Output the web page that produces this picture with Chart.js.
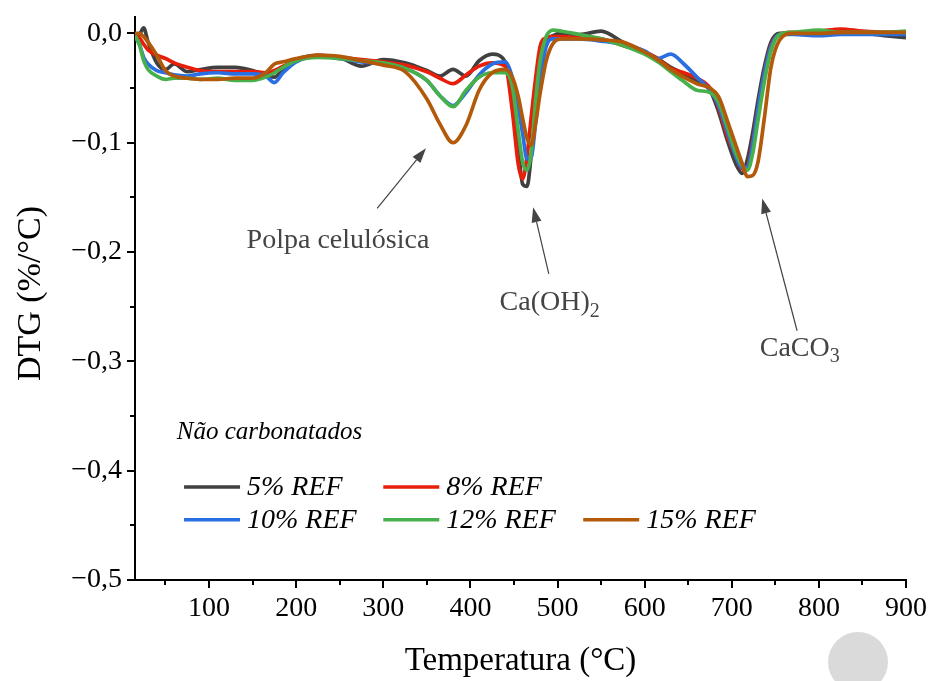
<!DOCTYPE html>
<html><head><meta charset="utf-8">
<script src="https://cdn.jsdelivr.net/npm/chart.js@4/dist/chart.umd.min.js"></script>
<style>
html,body{margin:0;padding:0;background:#fff;overflow:hidden}
#wrap{position:relative;width:936px;height:681px}
#dot{position:absolute;left:828px;top:632px;width:60px;height:60px;border-radius:50%;background:#dadada}
</style></head>
<body><div id="wrap"><canvas id="c" width="936" height="681"></canvas><div id="dot"></div></div>
<script>
// ---- data ----
const temps = [15,20,25,30,40,50,60,75,90,110,130,150,165,175,185,200,225,250,275,300,325,350,365,380,395,410,425,440,448,455,460,465,470,475,480,487,495,505,525,550,575,600,615,630,645,660,675,685,695,705,712,718,724,730,737,745,755,770,800,825,850,875,900];
const ref5 = [-0.002,-0.001,0.005,-0.008,-0.027,-0.033,-0.028,-0.035,-0.033,-0.031,-0.031,-0.034,-0.038,-0.040,-0.033,-0.024,-0.020,-0.022,-0.030,-0.024,-0.027,-0.034,-0.039,-0.033,-0.039,-0.025,-0.019,-0.026,-0.055,-0.105,-0.138,-0.140,-0.110,-0.075,-0.035,-0.008,-0.002,0.000,-0.001,0.002,-0.008,-0.017,-0.023,-0.031,-0.037,-0.044,-0.052,-0.072,-0.098,-0.120,-0.128,-0.115,-0.091,-0.062,-0.032,-0.008,0.000,0.000,-0.001,0.000,0.000,-0.002,-0.004];
const ref8 = [-0.001,-0.004,-0.010,-0.015,-0.020,-0.023,-0.027,-0.031,-0.034,-0.035,-0.035,-0.035,-0.036,-0.034,-0.030,-0.025,-0.020,-0.022,-0.024,-0.026,-0.029,-0.035,-0.041,-0.046,-0.038,-0.030,-0.027,-0.030,-0.070,-0.120,-0.133,-0.112,-0.075,-0.040,-0.012,-0.004,-0.003,-0.003,-0.004,-0.005,-0.011,-0.017,-0.023,-0.032,-0.036,-0.041,-0.050,-0.068,-0.094,-0.113,-0.124,-0.122,-0.100,-0.070,-0.038,-0.011,-0.001,0.001,0.002,0.004,0.002,0.001,0.001];
const ref10 = [-0.003,-0.010,-0.022,-0.028,-0.034,-0.036,-0.038,-0.039,-0.037,-0.036,-0.037,-0.037,-0.039,-0.045,-0.036,-0.026,-0.021,-0.023,-0.026,-0.028,-0.032,-0.043,-0.057,-0.066,-0.054,-0.038,-0.028,-0.026,-0.040,-0.068,-0.092,-0.115,-0.113,-0.080,-0.045,-0.012,-0.005,-0.005,-0.005,-0.007,-0.010,-0.016,-0.023,-0.019,-0.028,-0.040,-0.052,-0.066,-0.090,-0.113,-0.123,-0.122,-0.102,-0.070,-0.038,-0.012,-0.001,-0.001,-0.002,-0.001,-0.001,-0.001,-0.001];
const ref12 = [-0.002,-0.010,-0.025,-0.033,-0.039,-0.042,-0.041,-0.041,-0.042,-0.041,-0.043,-0.043,-0.040,-0.036,-0.031,-0.025,-0.022,-0.023,-0.025,-0.027,-0.032,-0.043,-0.057,-0.067,-0.052,-0.040,-0.036,-0.036,-0.048,-0.090,-0.118,-0.125,-0.108,-0.060,-0.025,-0.003,0.003,0.002,-0.001,-0.005,-0.011,-0.019,-0.026,-0.035,-0.044,-0.052,-0.054,-0.063,-0.086,-0.110,-0.121,-0.125,-0.110,-0.080,-0.046,-0.016,-0.001,0.001,0.003,0.001,0.001,0.001,0.002];
const ref15 = [0.000,0.000,-0.003,-0.008,-0.020,-0.034,-0.039,-0.041,-0.042,-0.042,-0.041,-0.041,-0.036,-0.028,-0.026,-0.023,-0.020,-0.021,-0.025,-0.029,-0.035,-0.060,-0.083,-0.100,-0.084,-0.052,-0.036,-0.033,-0.040,-0.058,-0.078,-0.096,-0.102,-0.082,-0.055,-0.025,-0.009,-0.005,-0.005,-0.006,-0.008,-0.017,-0.024,-0.033,-0.040,-0.046,-0.050,-0.058,-0.080,-0.103,-0.119,-0.131,-0.130,-0.118,-0.080,-0.031,-0.006,0.000,0.000,0.001,0.001,0.001,0.001];
const seriesLabels = ['5% REF','8% REF','10% REF','12% REF','15% REF'];
const seriesValues = [ref5, ref8, ref10, ref12, ref15];
const seriesColors = ['#404040','#e61e0a','#2a6fe2','#48b04a','#b35a0a'];
const xTicks = [100,200,300,400,500,600,700,800,900];
const yTicks = [0,-0.1,-0.2,-0.3,-0.4,-0.5];
const xTitle = 'Temperatura (°C)';
const yTitle = 'DTG (%/°C)';
const legendTitle = 'Não carbonatados';
const annotations = [
  {text:'Polpa celulósica', sub:'', tx:248, ty:-0.190, fromX:293, fromY:-0.160, toX:349, toY:-0.105},
  {text:'Ca(OH)', sub:'2', tx:491, ty:-0.246, fromX:490, fromY:-0.220, toX:472, toY:-0.159},
  {text:'CaCO', sub:'3', tx:778, ty:-0.288, fromX:775, fromY:-0.272, toX:735, toY:-0.151}
];

const FONT = '"Liberation Serif","Times New Roman",Times,serif';
const fmtY = v => (v < -1e-9 ? '\u2212' : '') + Math.abs(v).toFixed(1).replace('.', ',');

const extras = {
  id:'extras',
  afterDraw(chart){
    const ctx = chart.ctx, xs = chart.scales.x, ys = chart.scales.y, a = chart.chartArea;
    ctx.save();
    // ticks (major + minor)
    ctx.strokeStyle = '#000'; ctx.lineWidth = 2;
    for (let v = 50; v <= 900; v += 50){
      const px = Math.round(xs.getPixelForValue(v));
      const len = (v % 100 === 0) ? 8 : 5;
      ctx.beginPath(); ctx.moveTo(px, a.bottom); ctx.lineTo(px, a.bottom + len); ctx.stroke();
    }
    for (let k = 0; k <= 10; k++){
      const v = -k * 0.05;
      const py = Math.round(ys.getPixelForValue(v));
      const len = (k % 2 === 0) ? 8 : 5;
      ctx.beginPath(); ctx.moveTo(a.left, py); ctx.lineTo(a.left - len, py); ctx.stroke();
    }
    // axis titles
    ctx.fillStyle = '#000'; ctx.textAlign = 'center'; ctx.textBaseline = 'middle';
    ctx.font = '33px ' + FONT;
    ctx.fillText(xTitle, (a.left + a.right) / 2, 661);
    ctx.font = '34px ' + FONT;
    ctx.save(); ctx.translate(31, ys.getPixelForValue(-0.238)); ctx.rotate(-Math.PI/2);
    ctx.fillText(yTitle, 0, 0); ctx.restore();
    // annotations
    ctx.fillStyle = '#444'; ctx.strokeStyle = '#444';
    annotations.forEach(an => {
      const x1 = xs.getPixelForValue(an.fromX), y1 = ys.getPixelForValue(an.fromY);
      const x2 = xs.getPixelForValue(an.toX), y2 = ys.getPixelForValue(an.toY);
      const ang = Math.atan2(y2 - y1, x2 - x1), hl = 15, hw = 5;
      ctx.lineWidth = 1.2;
      ctx.beginPath(); ctx.moveTo(x1, y1); ctx.lineTo(x2 - hl*Math.cos(ang), y2 - hl*Math.sin(ang)); ctx.stroke();
      ctx.beginPath();
      ctx.moveTo(x2, y2);
      ctx.lineTo(x2 - hl*Math.cos(ang) + hw*Math.sin(ang), y2 - hl*Math.sin(ang) - hw*Math.cos(ang));
      ctx.lineTo(x2 - hl*Math.cos(ang) - hw*Math.sin(ang), y2 - hl*Math.sin(ang) + hw*Math.cos(ang));
      ctx.closePath(); ctx.fill();
      const tx = xs.getPixelForValue(an.tx), ty = ys.getPixelForValue(an.ty);
      ctx.textBaseline = 'middle'; ctx.textAlign = 'left';
      ctx.font = '28px ' + FONT;
      const w1 = ctx.measureText(an.text).width;
      ctx.font = '20px ' + FONT;
      const w2 = an.sub ? ctx.measureText(an.sub).width : 0;
      const left = tx - (w1 + w2) / 2;
      ctx.font = '28px ' + FONT; ctx.fillText(an.text, left, ty);
      if (an.sub){ ctx.font = '20px ' + FONT; ctx.fillText(an.sub, left + w1, ty + 9); }
    });
    // legend
    ctx.fillStyle = '#000';
    ctx.textAlign = 'left'; ctx.textBaseline = 'middle';
    ctx.font = 'italic 25px ' + FONT;
    ctx.fillText(legendTitle, xs.getPixelForValue(63), ys.getPixelForValue(-0.365));
    const rows = [-0.415, -0.445];
    const cols = [71.3, 300, 529.5];
    const layout = [[0,0],[0,1],[1,0],[1,1],[1,2]];
    chart.data.datasets.forEach((ds, i) => {
      const [r, c] = layout[i];
      const x0 = xs.getPixelForValue(cols[c]), y0 = ys.getPixelForValue(rows[r]);
      ctx.strokeStyle = ds.borderColor; ctx.lineWidth = 3.5;
      ctx.beginPath(); ctx.moveTo(x0, y0); ctx.lineTo(x0 + 56, y0); ctx.stroke();
      ctx.fillStyle = '#000'; ctx.font = 'italic 28px ' + FONT;
      ctx.fillText(ds.label, x0 + 63, y0 + 1);
    });
    ctx.restore();
  }
};

new Chart(document.getElementById('c'), {
  type:'line',
  data:{ datasets: seriesLabels.map((l, i) => ({
    label:l,
    data: temps.map((t, j) => ({x:t, y:seriesValues[i][j]})),
    borderColor: seriesColors[i], backgroundColor: seriesColors[i],
    borderWidth:3.7, pointRadius:0, fill:false,
    cubicInterpolationMode:'monotone', order: 4 - i
  }))},
  options:{
    responsive:false, animation:false, devicePixelRatio:1,
    layout:{padding:{top:17, right:30, left:0, bottom:0}},
    plugins:{legend:{display:false}, tooltip:{enabled:false}},
    scales:{
      x:{type:'linear', min:15, max:900,
        afterBuildTicks: s => { s.ticks = xTicks.map(v => ({value:v})); },
        afterFit: s => { s.height = 101; s.paddingLeft = 0; s.paddingRight = 0; },
        grid:{display:true, drawOnChartArea:false, drawTicks:true, tickLength:8, color:'rgba(0,0,0,0)'},
        border:{display:true, color:'#000', width:2},
        ticks:{font:{family:FONT, size:28}, color:'#000', padding:4, maxRotation:0, autoSkip:false, callback: v => String(v)},
        title:{display:false}
      },
      y:{type:'linear', min:-0.5, max:0.015,
        afterBuildTicks: s => { s.ticks = yTicks.map(v => ({value:v})); },
        afterFit: s => { s.width = 135; s.paddingTop = 0; s.paddingBottom = 0; },
        grid:{display:true, drawOnChartArea:false, drawTicks:true, tickLength:8, color:'rgba(0,0,0,0)'},
        border:{display:true, color:'#000', width:2},
        ticks:{font:{family:FONT, size:28}, color:'#000', padding:5, autoSkip:false, callback: v => fmtY(v)},
        title:{display:false}
      }
    }
  },
  plugins:[extras]
});
</script>
</body></html>
